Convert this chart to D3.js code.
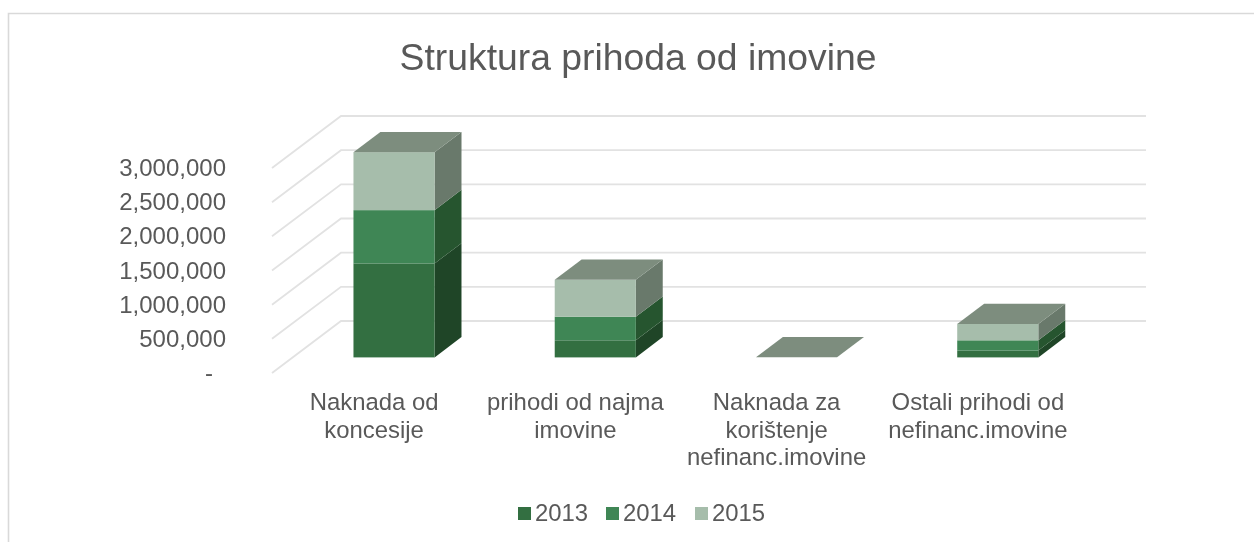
<!DOCTYPE html>
<html><head><meta charset="utf-8">
<script src="https://cdn.jsdelivr.net/npm/d3@7/dist/d3.min.js"></script>
<style>html,body{margin:0;padding:0;background:#fff}svg{display:block;filter:blur(0.4px)}text{font-family:"Liberation Sans",Arial,sans-serif;fill:#595959}</style>
</head><body><div id="chart"></div>
<script>
const titleText = "Struktura prihoda od imovine";
const categories = ["Naknada od koncesije","prihodi od najma imovine","Naknada za korištenje nefinanc.imovine","Ostali prihodi od nefinanc.imovine"];
const categoryLines = [["Naknada od","koncesije"],["prihodi od najma","imovine"],["Naknada za","korištenje","nefinanc.imovine"],["Ostali prihodi od","nefinanc.imovine"]];
const years = ["2013","2014","2015"];
const v2013 = [1375000,250000,0,100000];
const v2014 = [780000,345000,0,150000];
const v2015 = [848000,540000,1000,240000];
const tickValues = [0,500000,1000000,1500000,2000000,2500000,3000000];
const frontColors = ["#336f41","#3f8655","#a6bdab"];
const sideColors = ["#1f4527","#26552f","#69796b"];
const topColor = "#7d8d7e";

const W=1254,H=542;
const svg=d3.select("#chart").append("svg").attr("width",W).attr("height",H);

// chart frame: left and top edges only, the crop cuts the rest
svg.append("path").attr("d","M8.5,542V13.5H1254").attr("fill","none").attr("stroke","#d9d9d9").attr("stroke-width",1.6);

svg.append("text").attr("x",638).attr("y",70).attr("text-anchor","middle").attr("font-size",37.3).text(titleText);

const x=d3.scaleBand().domain(categories).range([272,1077]).paddingInner(0).paddingOuter(0);
const y=d3.scaleLinear().domain([0,3000000]).range([373,168]);
// depth: 0 = front of floor, 1 = back wall
const dep=d=>({dx:69*d,dy:-52*d});
const gapDepth=0.3, barDepth=0.39, barFrac=0.403;

const grid=svg.append("g").attr("fill","none").attr("stroke","#e2e2e2").attr("stroke-width",1.8);
tickValues.forEach(t=>{
  const d=dep(1);
  grid.append("path").attr("d",`M${x.range()[0]},${y(t)}L${x.range()[0]+d.dx},${y(t)+d.dy}H${x.range()[1]+d.dx}`);
});

const fmt=t=>t===0?"-":d3.format(",")(t);
svg.append("g").selectAll("text").data(tickValues).join("text")
  .attr("x",t=>t===0?213:226).attr("y",t=>y(t)+8).attr("text-anchor","end").attr("font-size",24).text(fmt);

const series=[v2013,v2014,v2015];
const bars=svg.append("g");
const pts=a=>a.map(p=>p.join(",")).join(" ");
categories.forEach((c,i)=>{
  const bw=x.bandwidth()*barFrac;
  const d0=dep(gapDepth), d1=dep(gapDepth+barDepth);
  const xl=x(c)+(x.bandwidth()-bw)/2+d0.dx+0.7, xr=xl+bw;
  const sdx=d1.dx-d0.dx, sdy=d1.dy-d0.dy;
  let acc=0;
  series.forEach((s,k)=>{
    const v=s[i];
    const yb=y(acc)+d0.dy, yt=y(acc+v)+d0.dy;
    acc+=v;
    if(v<=1000) return;
    bars.append("polygon").attr("points",pts([[xr,yb],[xr+sdx,yb+sdy],[xr+sdx,yt+sdy],[xr,yt]])).attr("fill",sideColors[k]);
    bars.append("rect").attr("x",xl).attr("y",yt).attr("width",bw).attr("height",yb-yt).attr("fill",frontColors[k]);
  });
  const yt=y(acc)+d0.dy;
  bars.append("polygon").attr("points",pts([[xl,yt],[xr,yt],[xr+sdx,yt+sdy],[xl+sdx,yt+sdy]])).attr("fill",topColor);
});

const labels=svg.append("g");
categories.forEach((c,i)=>{
  const t=labels.append("text").attr("text-anchor","middle").attr("font-size",23.9);
  categoryLines[i].forEach((l,j)=>t.append("tspan").attr("x",x(c)+x.bandwidth()/2+1.5).attr("y",410+j*27.5).text(l));
});

const legendX=[518,606,695];
const lg=svg.append("g");
years.forEach((yr,i)=>{
  lg.append("rect").attr("x",legendX[i]).attr("y",507).attr("width",13).attr("height",13).attr("fill",frontColors[i]);
  lg.append("text").attr("x",legendX[i]+17).attr("y",521).attr("font-size",23.9).text(yr);
});
</script></body></html>
